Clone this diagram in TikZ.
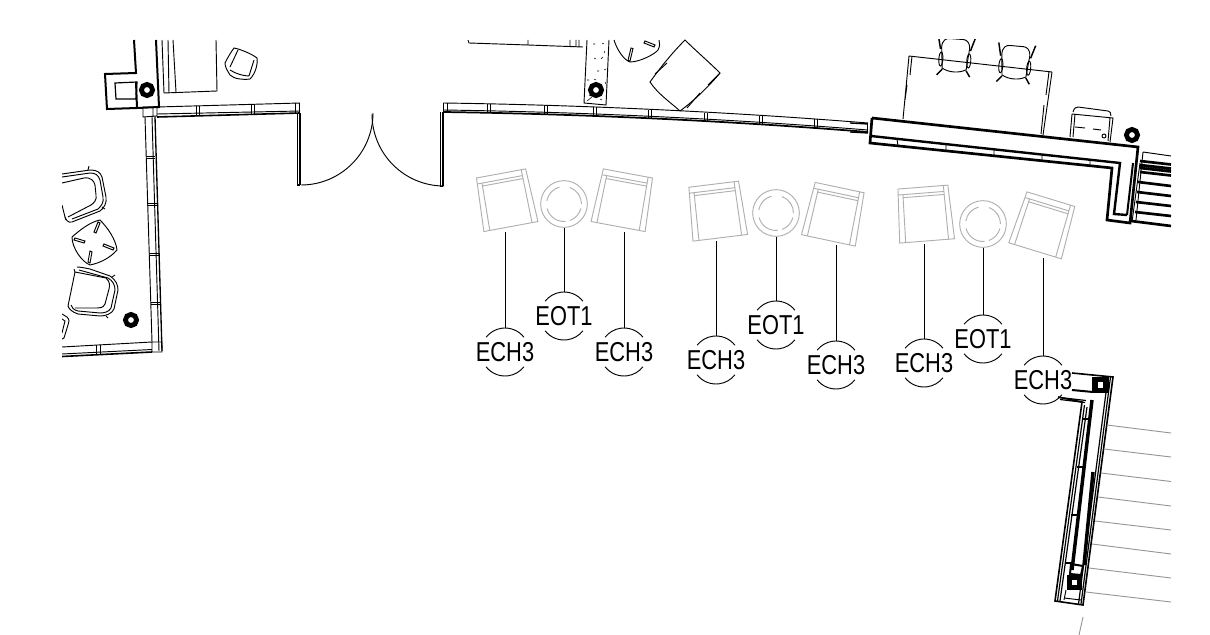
\documentclass[tikz,border=0pt]{standalone}
\usepackage{fontspec}
\newfontfamily\tagfont[FakeStretch=0.8]{Liberation Sans}

\tikzset{every picture/.style={line width=0.7pt}}
\tikzset{
  graywall/.style={color={rgb, 255:red, 150; green, 150; blue, 150 }},
  heavy/.style={line width=1.5pt},
  heavier/.style={line width=2.2pt},
  column/.style={line width=3.6pt},
  tagring/.style={circle,minimum size=36pt,inner sep=0pt},
  tagtext/.style={font=\tagfont\fontsize{20.5}{20.5}\selectfont,inner sep=0pt},
  tablering/.style={circle,minimum size=35pt,inner sep=0pt,draw,color={rgb, 255:red, 175; green, 175; blue, 175 }},
  pics/roomtag/.style={code={
    \node (-ring) [tagring,label={[tagtext]center:#1}] {};
    \draw (218:24) arc[start angle=218,end angle=322,radius=24];
    \draw (38:24) arc[start angle=38,end angle=142,radius=24];
  }},
  pics/armchair/.style={code={
    \draw [color={rgb, 255:red, 175; green, 175; blue, 175 }] (-25,-27) -- (25,-27) -- (27.5,27) -- (-27.5,27) -- cycle;
    \draw [color={rgb, 255:red, 175; green, 175; blue, 175 }] (-20.5,-21) -- (-21.5,27) (20.5,-27) -- (21.5,27) (-25,-21) -- (21,-21) (-20.5,-18) -- (20.5,-18);
  }},
  pics/sidetable/.style={code={
    \node (-top) [tablering] {};
    \draw [color={rgb, 255:red, 175; green, 175; blue, 175 }] (-70:17.5) arc[start angle=-70,end angle=-15,radius=17.5];
    \draw [color={rgb, 255:red, 175; green, 175; blue, 175 }] (-165:17.5) arc[start angle=-165,end angle=-85,radius=17.5];
    \draw [color={rgb, 255:red, 175; green, 175; blue, 175 }] (105:17.5) arc[start angle=105,end angle=170,radius=17.5];
    \draw [color={rgb, 255:red, 175; green, 175; blue, 175 }] (0:17.5) arc[start angle=0,end angle=70,radius=17.5];
  }},
  pics/smallchair/.style={code={
    \draw (-14,-9) .. controls (-14,-16) and (-10,-18) .. (-7,-18) -- (7,-18) .. controls (10,-18) and (14,-16) .. (14,-9) -- (12,12) .. controls (5,16) and (-5,16) .. (-12,12) -- cycle;
    \draw (-14,3) ellipse (2 and 7) (14,3) ellipse (2 and 7);
    \draw [line width=1.1pt] (-15,-7) -- (-18,-20) (15,-7) -- (19,-20) (-12,13) -- (-17,19) (12,13) -- (16,19);
  }},
  pics/doughnut/.style={code={
    \draw [column] (0,0) circle (5.6);
  }}
}

\begin{document}
\begin{tikzpicture}[x=0.75pt,y=0.75pt,yscale=-1,xscale=1]
	\useasboundingbox (0,0) rectangle (1210,635);
	\clip (62,40) rectangle (1171,635);

	%Shape: Corner block top left
	\draw [heavy] (134,40) -- (136,73) -- (105,74) -- (107,109) -- (137,108) -- (136,82) (156,40) -- (159,107) -- (137,108);
	\draw [line width=0.9pt] (115,83) -- (137,82) -- (136,99) -- (116,99) -- cycle;
	\pic at (147,90) {doughnut};
	\draw (162,40) -- (164,93) -- (217,91) -- (216,40) (168,40) -- (169,93) (173,40) -- (176,92);
	\draw (234,48) .. controls (240,49) and (252,54) .. (257,58) .. controls (258,65) and (255,74) .. (250,79) .. controls (243,80) and (234,79) .. (230,75) .. controls (227,70) and (225,67) .. (225,63) .. controls (228,57) and (231,52) .. (234,48) -- cycle;
	\draw (230,67) -- (238,50) (230,70) .. controls (236,74) and (244,76) .. (249,76) (249,76) -- (254,60);

	%Shape: Wall left room
	\draw (143,107) -- (157,107) -- (300,103) (157,114) -- (300,111);
	\draw [line width=1.2pt] (157,117) -- (300,113);
	\draw (143,107) -- (143,117) -- (157,116) -- (157,107) (153,107) -- (153,117);
	\draw (145,117) -- (152,342) (152,117) -- (159,351);
	\draw [line width=1pt] (155,117) -- (162,351);
	\draw (146,156) -- (155,156) (146,158.5) -- (155,158.5) (147,203) -- (157,203) (147,205.5) -- (157,205.5) (149,253) -- (159,253) (149,255.5) -- (159,255.5) (151,302) -- (160,302) (151,304.5) -- (160,304.5);
	\draw (62,347) -- (152,342) -- (162,342) -- (162,352) -- (152,352) (62,354) -- (152,349.5) (152,342) -- (152,352);
	\draw [line width=1.2pt] (62,356.5) -- (152,352);
	\draw (96.5,345) -- (96.5,354.5) (100.5,345) -- (100.5,354.5);
	\draw (196,106) -- (196,115.5) (199,106) -- (199,115.5) (251,104.5) -- (251,114) (254,104.5) -- (254,114) (295,103) -- (295,113) (299,103) -- (299,113);
	\draw [line width=1pt] (300,113) -- (300,185);
	\draw (297,113) -- (297,185);
	\draw [line width=0.9pt] (297,185) -- (300,185);

	%Shape: Door
	\draw (301,185) arc[start angle=90,end angle=0,radius=72];
	\draw (444,186) arc[start angle=90,end angle=180,radius=72];
	\draw (440,112) -- (440,186);
	\draw [line width=1pt] (443,112) -- (443,186);
	\draw (440,186) -- (443,186);

	%Shape: Curved wall
	\draw (443,103) .. controls (585,105) and (730,112) .. (868,123);
	\draw (443,110) .. controls (585,112) and (730,119) .. (868,130);
	\draw [line width=1.3pt] (443,112) .. controls (585,114) and (730,121) .. (868,132);
	\draw (443,103) -- (443,112) (447,103) -- (447,112);
	\draw (487,104) -- (487,113) (490,104) -- (490,113) (544,105.3) -- (544,114.3) (547,105.3) -- (547,114.3) (593,107) -- (593,116) (596,107) -- (596,116) (648,110) -- (648,119) (651,110) -- (651,119) (704,113) -- (704,122) (707,113) -- (707,122) (759,116) -- (759,125) (762,116) -- (762,125) (814,119) -- (814,128) (817,119) -- (817,128) (867,123) -- (867,132) (870,123) -- (870,132);

	%Shape: Top middle furniture
	\draw (468,40) -- (469,43) -- (528,45) -- (583,47) (528,40) -- (528,45) (570,40) -- (570,47) (576,40) -- (576,47) (579,40) -- (579,47);
	\draw (587,40) -- (584,103) -- (606,105) -- (609,40);
	\draw [line width=0.4pt] (593,44) -- (595,44) (602,43) -- (604,44) (604,53) -- (605,51) (594,58) -- (596,59) (601,59) -- (603,57) (597,71) -- (599,71) (604,70) -- (606,69) (587,80) -- (589,80) (594,79) -- (596,80) (605,82) -- (606,84) (589,95) -- (591,96) (600,99) -- (602,100) (587,101) -- (592,97);
	\pic at (596,90) {doughnut};
	\draw (614,40) .. controls (617,50) and (624,60) .. (630,62) .. controls (640,62) and (655,54) .. (658,50) .. controls (660,46) and (660,43) .. (659,40);
	\draw (631,48) -- (633,48.5) -- (630,61) -- (628,60.5) -- cycle (645,41) -- (655,45) -- (654,47) -- (644,43) -- cycle;
	\draw (685,40) .. controls (695,50) and (710,63) .. (720,73) .. controls (710,85) and (695,100) .. (680,111) .. controls (670,102) and (658,94) .. (650,82) .. controls (660,68) and (672,53) .. (685,40) -- cycle;
	\draw (667,63) -- (655,74) (720,73) -- (708,85) (700,93) -- (687,108);

	%Shape: Beam on the right
	\draw [line width=2pt] (872,118) -- (1138,147) -- (1130,223) -- (1107,220) -- (1112,168) -- (870,143) -- (872,118);
	\draw [line width=1.8pt] (871,136) -- (1120,163) -- (1114,214) -- (1127,215);
	\draw [heavy] (1127,215) -- (1133,163);
	\draw (898,146) -- (897,139) (946,144) -- (946,151) (994,149) -- (994,157) (1042,154) -- (1042,161) (1090,160) -- (1090,165);
	\draw [line width=1pt] (850,123) -- (868,124) (850,132) -- (868,133);
	%Shape: Stair on the right
	\draw (1143,152) -- (1171,156) (1143,152) -- (1136,220) (1140,163) -- (1132,222);
	\draw [line width=2pt] (1140,161) -- (1171,164.5) (1140,165) -- (1171,168.5) (1140,168) -- (1171,171.5) (1140,172) -- (1171,175.5) (1138,182) -- (1171,186) (1137,192) -- (1171,196) (1136,202) -- (1171,206) (1135,212) -- (1171,216) (1131,221) -- (1171,226);
	\pic at (1132,135) {doughnut};

	%Shape: Table and chairs at the beam
	\draw (909,56) -- (1052,72) (909,56) -- (903,119) (912,56) -- (910,75) (907,85) -- (905,100) (1052,72) -- (1043,135) (1049,72) -- (1046,95) (1044,105) -- (1041,134);
	\pic [transform shape,rotate=4] at (955,57) {smallchair};
	\pic [transform shape,rotate=5] at (1015,64) {smallchair};
	\draw (1073,112) .. controls (1074,108) and (1076,107) .. (1078,107) -- (1108,111) .. controls (1110,111) and (1111,113) .. (1111,116);
	\draw (1072,114) -- (1113,118) -- (1110,142) (1072,114) -- (1070,137) (1075,114) -- (1073,137) (1110,118) -- (1108,141);
	\draw (1075,127) -- (1085,128) (1093,129) -- (1101,130);
	\draw (1104,136) circle (2);

	%Shape: Lounge on the left
	\draw (62,174) -- (90,170) .. controls (97,170) and (100,172) .. (102,177) -- (106,197) .. controls (107,203) and (104,208) .. (100,211) -- (72,222) .. controls (68,223) and (66,220) .. (65,217) -- (62,205);
	\draw (62,177) -- (90,173) .. controls (96,173) and (98,175) .. (100,180) -- (103,197) .. controls (104,203) and (101,206) .. (98,209) -- (72,219);
	\draw (62,183) -- (84,178) .. controls (91,177) and (94,181) .. (95,185) -- (96,195) .. controls (97,200) and (94,203) .. (91,205) -- (68,217);
	\draw (88,170) -- (89,166) (102,207) -- (105,209) (65,217) -- (66,220);
	\draw (72,237) .. controls (80,230) and (90,222) .. (100,220) .. controls (108,228) and (116,240) .. (117,250) .. controls (110,258) and (100,263) .. (90,265) .. controls (82,262) and (72,248) .. (72,237) -- cycle;
	\draw (98,222) -- (100,223) -- (96,233) -- (94,232) -- cycle (75,238) -- (85,241) -- (84,243) -- (74,240) -- cycle (104,244) -- (114,248) -- (113,250) -- (103,246) -- cycle (90,251) -- (92,252) -- (90,263) -- (88,262) -- cycle;
	\draw (77,267) .. controls (80,267) and (85,268) .. (90,269) -- (110,276) .. controls (116,280) and (118,285) .. (118,290) -- (114,309) .. controls (112,314) and (105,316) .. (100,316) -- (78,314) .. controls (72,312) and (69,309) .. (68,306);
	\draw (79,270) -- (108,278) .. controls (113,281) and (115,285) .. (115,290) -- (111,308) .. controls (109,312) and (104,313) .. (100,313) -- (78,311) .. controls (73,310) and (72,307) .. (71,305);
	\draw (75,272) -- (68,306) (75,272) -- (106,278) .. controls (110,282) and (110,285) .. (109,289) -- (105,304) .. controls (103,308) and (100,308) .. (97,308) -- (75,308);
	\draw (75,272) -- (74,269) (112,277) -- (115,275) (106,316) -- (108,318);
	\draw (62,314) -- (67,317) .. controls (70,320) and (69,322) .. (68,325) -- (64,338) -- (62,339) (62,319) -- (65,321) -- (62,333);
	\pic at (131,320) {doughnut};

	%Shape: Armchairs
	\pic [transform shape,rotate=-10.5] at (506,200) {armchair};
	\pic [transform shape,rotate=10.5] at (623,200) {armchair};
	\pic [transform shape,rotate=-7] at (717,211) {armchair};
	\pic [transform shape,rotate=12] at (834,214) {armchair};
	\pic [transform shape,rotate=-4.5] at (925,214) {armchair};
	\pic [transform shape,rotate=17] at (1043,225) {armchair};
	\pic (tblA) at (564,204) {sidetable};
	\pic (tblB) at (776,213) {sidetable};
	\pic (tblC) at (983,224) {sidetable};

	\coordinate (chA) at (505,232);
	\coordinate (chB) at (624,232);
	\coordinate (chC) at (716,241);
	\coordinate (chD) at (836,245);
	\coordinate (chE) at (924,244);
	\coordinate (chF) at (1043,258);

	%Shape: Tags
	\pic (ecA) at (505,352) {roomtag=ECH3};
	\pic (eoA) at (564,316) {roomtag=EOT1};
	\pic (ecB) at (624,352) {roomtag=ECH3};
	\pic (ecC) at (716,360) {roomtag=ECH3};
	\pic (eoB) at (776,325) {roomtag=EOT1};
	\pic (ecD) at (836,365) {roomtag=ECH3};
	\pic (ecE) at (924,363) {roomtag=ECH3};
	\pic (eoC) at (983,339) {roomtag=EOT1};
	\pic (ecF) at (1043,380) {roomtag=ECH3};

	\draw (chA) -- (ecA-ring);
	\draw (tblA-top) -- (eoA-ring);
	\draw (chB) -- (ecB-ring);
	\draw (chC) -- (ecC-ring);
	\draw (tblB-top) -- (eoB-ring);
	\draw (chD) -- (ecD-ring);
	\draw (chE) -- (ecE-ring);
	\draw (tblC-top) -- (eoC-ring);
	\draw (chF) -- (ecF-ring);

	%Shape: Wall bottom right
	\draw [line width=1.2pt] (1072,373) -- (1113,377) -- (1083,605) -- (1055,601) -- (1082,402) -- (1058,397);
	\draw [line width=0.9pt] (1110.5,377) -- (1081,604) (1108,377) -- (1078.5,604);
	\draw [line width=0.9pt] (1057.5,601) -- (1084.5,405) (1060,601) -- (1087,407);
	\draw [line width=0.9pt] (1060,399.5) -- (1085,402.5) (1060,397.5) -- (1086,400.5);
	\draw [heavy] (1072,390) -- (1093,392);
	\draw [line width=2.6pt] (1092,400) -- (1072,570);
	\draw [line width=2.6pt] (1093,472) -- (1084,565);
	\draw (1064,600) -- (1066,590) (1064,598) -- (1081,600);
	\draw [heavy] (1083,419) -- (1090,419) (1077,467) -- (1084,467) (1071,515) -- (1078,515) (1065,563) -- (1072,563);
	\draw [heavy] (1071,564) -- (1083,566) -- (1081,575) -- (1070,574) -- cycle;
	\draw [line width=4.1pt] (1095,379.5) rectangle (1106,390.5);
	\draw [line width=3.8pt] (1069.5,577.5) rectangle (1079.5,587.5);
	\draw [graywall] (1107,425) -- (1171,433) (1104,449) -- (1171,457) (1101,473) -- (1171,481.5) (1098,497) -- (1171,506) (1095,521) -- (1171,530) (1092,544) -- (1171,554) (1089,568) -- (1171,578) (1086,592) -- (1171,602);
	\draw [graywall] (1083,617) -- (1079,635);
\end{tikzpicture}
\end{document}
